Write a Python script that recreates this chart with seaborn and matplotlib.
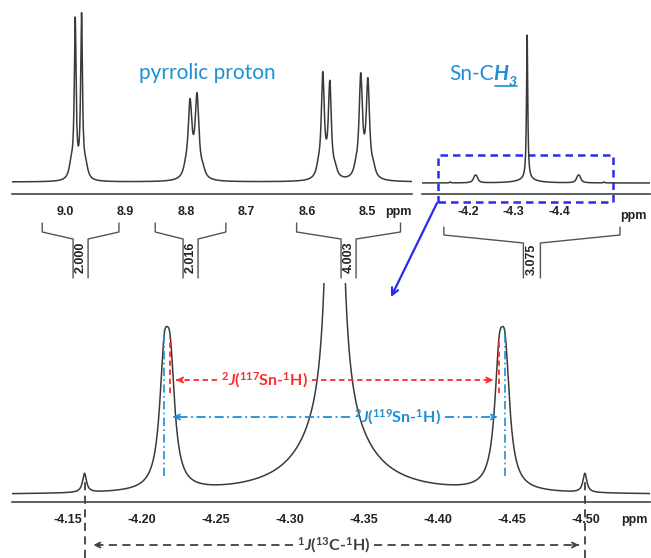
import numpy as np
import pandas as pd
import seaborn as sns
import matplotlib.pyplot as plt
from matplotlib.ticker import MultipleLocator
from matplotlib.transforms import blended_transform_factory
from matplotlib.patches import Rectangle
from matplotlib.lines import Line2D

# --- peak tables ------------------------------------------------------------
# pyrrolic protons (top-left trace), height in px above the baseline
pyr_ppm = [8.9834, 8.9729, 8.7934, 8.7818, 8.5736, 8.5620, 8.5108, 8.4990]
pyr_height = [156, 161, 74, 81, 102, 93, 100, 95]
pyr_hwhm = [0.0018, 0.0018, 0.0038, 0.0038, 0.0030, 0.0030, 0.0033, 0.0033]
# broad feet / shoulders under the doublets
shoulder_ppm = [8.990, 8.966, 8.801, 8.772, 8.581, 8.553, 8.519, 8.490]
shoulder_height = [14, 12, 6, 6, 8, 7, 7, 8]
shoulder_hwhm = [0.004] * 8

# Sn-CH3 line + satellites, height in px of the expanded (bottom) trace
sn_ppm = [-4.330, -4.330, -4.2148, -4.4452, -4.2189, -4.4411, -4.161, -4.499]
sn_height = [3050, 75, 109, 109, 106, 106, 19, 19]
sn_hwhm = [0.0016, 0.024, 0.0037, 0.0037, 0.0037, 0.0037, 0.0016, 0.0016]
# index of the lines in sn_ppm
SN119 = (2, 3)
SN117 = (4, 5)
C13 = (6, 7)

# integrals (ppm from, ppm to, value)
int_from = [9.038, 8.851, 8.617, -4.147]
int_to = [8.911, 8.734, 8.445, -4.534]
int_value = ['2.000', '2.016', '4.003', '3.075']

# ticks
top_left_ticks = [9.0, 8.9, 8.8, 8.7, 8.6, 8.5]
top_right_ticks = [-4.2, -4.3, -4.4, -4.5]
top_right_labels = ['-4.2', '-4.3', '-4.4', '']
bottom_ticks = [-4.15, -4.20, -4.25, -4.30, -4.35, -4.40, -4.45, -4.50]

zoom_box = (-4.134, -4.519)

BLUE = '#1f8fd4'
RED = '#ff2b2b'
DARK = '#404040'
LINE = '#3a3a3a'

sns.set_style('white')
plt.rcParams['font.family'] = ['Liberation Sans', 'DejaVu Sans']
plt.rcParams['axes.unicode_minus'] = False
plt.rcParams['mathtext.fontset'] = 'custom'
plt.rcParams['mathtext.rm'] = 'Lato:bold'
plt.rcParams['mathtext.it'] = 'Lato:bold:italic'
plt.rcParams['mathtext.bf'] = 'Lato:bold'

W, H = 651, 558


def fx(x):
    return x / W


def fy(y):
    return 1 - y / H


def box(l, t, r, b):
    return [l / W, 1 - b / H, (r - l) / W, (b - t) / H]


def lorentz(grid, pos, height, hwhm):
    out = np.zeros_like(grid)
    for p, h, w in zip(pos, height, hwhm):
        out += h * w ** 2 / ((grid - p) ** 2 + w ** 2)
    return out


fig = plt.figure(figsize=(W / 100, H / 100), dpi=100)
ax1 = fig.add_axes(box(12, 10, 412, 194))
ax2 = fig.add_axes(box(422, 30, 650, 194))
ax3 = fig.add_axes(box(12, 283, 650, 502))

lims = {ax1: (9.088, 8.426), ax2: (-4.099, -4.600), ax3: (-4.112, -4.543)}

g1 = np.linspace(*lims[ax1], 6000)
s1 = lorentz(g1, pyr_ppm + shoulder_ppm, pyr_height + shoulder_height,
             pyr_hwhm + shoulder_hwhm)
g2 = np.linspace(*lims[ax2], 6000)
s2 = lorentz(g2, sn_ppm, sn_height, sn_hwhm)
g3 = np.linspace(*lims[ax3], 8000)
s3 = lorentz(g3, sn_ppm, sn_height, sn_hwhm)

for ax, g, s in [(ax1, g1, s1), (ax2, g2, s2), (ax3, g3, s3)]:
    df = pd.DataFrame({'ppm': g, 'I': s})
    sns.lineplot(data=df, x='ppm', y='I', ax=ax, color=LINE, linewidth=1.1,
                 estimator=None, sort=False)


def style(ax, ylim, ticks, labels, minor):
    ax.set_xlim(lims[ax])
    ax.set_ylim(ylim)
    for side in ['top', 'left', 'right']:
        ax.spines[side].set_visible(False)
    ax.spines['bottom'].set_color('#444444')
    ax.spines['bottom'].set_linewidth(1.2)
    ax.set_yticks([])
    ax.set_xticks(ticks, labels, fontweight='bold', fontsize=9, color='#222222')
    ax.xaxis.set_minor_locator(MultipleLocator(minor))
    ax.tick_params(axis='x', which='major', direction='out', length=4,
                   width=1.0, pad=4.5, color='#444444')
    ax.tick_params(axis='x', which='minor', direction='out', length=2,
                   width=0.8, color='#444444')
    ax.set_xlabel('')
    ax.set_ylabel('')
    ax.patch.set_alpha(0)


style(ax1, (-12, 172), top_left_ticks, [f'{t:.1f}' for t in top_left_ticks], 0.01)
style(ax2, (-232, 3232), top_right_ticks, top_right_labels, 0.01)
style(ax3, (-7, 212), bottom_ticks, [f'{t:.2f}' for t in bottom_ticks], 0.01)

for ax, xf, dy in [(ax1, 0.965, -13), (ax2, 0.925, -16), (ax3, 0.976, -13)]:
    ax.annotate('ppm', xy=(xf, 0), xycoords='axes fraction', xytext=(0, dy),
                textcoords='offset points', ha='center', va='center',
                fontsize=9, fontweight='bold', color='#222222')


# integral brackets
def integral(ax, a, b, text, y_top, y_tick, y_join, y_end, half, y_text):
    tr = blended_transform_factory(ax.transData, fig.transFigure)
    x0, x1 = ax.get_xlim()
    d = half * abs(x1 - x0) / ax.bbox.width
    c = (a + b) / 2
    ys = [fy(y_top), fy(y_tick), fy(y_join), fy(y_end)]
    for end, inner in [(a, c + d), (b, c - d)]:
        ax.add_line(Line2D([end, end, inner, inner], ys, transform=tr,
                           color='#555555', lw=1.0, clip_on=False))
    ax.text(c, fy(y_text), text, rotation=90, ha='center', va='center',
            transform=tr, fontsize=9, fontweight='bold', color='#222222')


for a, b, v in zip(int_from[:3], int_to[:3], int_value[:3]):
    integral(ax1, a, b, v, 223, 232, 239, 278, 7.5, 257)
integral(ax2, int_from[3], int_to[3], int_value[3], 227, 235, 243, 278, 8.5, 259)

# dashed zoom box and arrow to the expansion
tr2 = blended_transform_factory(ax2.transData, fig.transFigure)
ax2.add_patch(Rectangle((zoom_box[0], fy(202)), zoom_box[1] - zoom_box[0],
                        fy(155) - fy(202), transform=tr2, fill=False,
                        edgecolor='#2a2aee', lw=1.8, ls=(0, (3, 2)),
                        clip_on=False))
ax3.annotate('', xy=(fx(391), fy(297)), xycoords='figure fraction',
             xytext=(fx(437), fy(203)), textcoords='figure fraction',
             arrowprops=dict(arrowstyle='->', color='#2a2aee', lw=1.6,
                             shrinkA=0, shrinkB=0, mutation_scale=12),
             annotation_clip=False)

# labels on the top traces
fig.text(fx(207), fy(79), 'pyrrolic proton', color=BLUE, fontsize=15,
         fontfamily='Lato', ha='center', va='baseline')
t1 = fig.text(fx(449), fy(80.5), 'Sn-C', color=BLUE, fontsize=15,
              fontfamily='Lato', va='baseline')
fig.canvas.draw()
bb1 = t1.get_window_extent()
t2 = fig.text(bb1.x1 / W, fy(80.5), 'H', color=BLUE, fontsize=15,
              fontfamily='Lato', fontweight='bold', fontstyle='italic',
              va='baseline')
fig.canvas.draw()
bb2 = t2.get_window_extent()
t3 = fig.text(bb2.x1 / W, fy(86.5), '3', color=BLUE, fontsize=10,
              fontfamily='Lato', fontweight='bold', fontstyle='italic',
              va='baseline')
fig.canvas.draw()
bb3 = t3.get_window_extent()
fig.add_artist(Line2D([(bb2.x0 + 1) / W, bb3.x1 / W], [fy(85.5), fy(85.5)],
                      transform=fig.transFigure, color=BLUE, lw=1.2))

# coupling markers in the expansion (y in px above its baseline)
ax3.vlines([sn_ppm[i] for i in SN119], 19, 165, colors=BLUE, lw=1.2,
           linestyles=[(0, (5, 2, 1, 2))])
ax3.vlines([sn_ppm[i] for i in SN117], 102, 158, colors=RED, lw=1.3,
           linestyles=[(0, (3, 2))])
ax3.vlines([sn_ppm[i] for i in C13], -63, 17, colors=DARK, lw=1.3,
           linestyles=[(0, (4.5, 3))], clip_on=False)


def coupling(text, xc, y, tips, color, ls):
    t = ax3.text(xc, y, text, color=color, ha='center', va='center',
                 fontsize=11.5, fontfamily='Lato', fontweight='bold',
                 clip_on=False)
    fig.canvas.draw()
    bb = t.get_window_extent()
    inv = ax3.transData.inverted()
    left = inv.transform((bb.x0 - 4, 0))[0]
    right = inv.transform((bb.x1 + 4, 0))[0]
    for start, tip in [(left, tips[0]), (right, tips[1])]:
        ax3.plot([start, tip], [y, y], color=color, lw=1.3, ls=ls,
                 clip_on=False)
        step = 0.004 if tip > start else -0.004
        ax3.annotate('', xy=(tip, y), xytext=(tip - step, y),
                     arrowprops=dict(arrowstyle='->', color=color, lw=1.3,
                                     shrinkA=0, shrinkB=0, mutation_scale=9),
                     annotation_clip=False)


coupling(r'$^{2}$$\mathit{J}$($^{117}$Sn-$^{1}$H)', -4.2824, 115,
         (sn_ppm[SN117[0]] - 0.004, sn_ppm[SN117[1]] + 0.004), RED, (0, (3, 2)))
coupling(r'$^{2}$$\mathit{J}$($^{119}$Sn-$^{1}$H)', -4.3723, 78,
         (sn_ppm[SN119[0]] - 0.006, sn_ppm[SN119[1]] + 0.005), BLUE,
         (0, (5, 2, 1, 2)))
coupling(r'$^{1}$$\mathit{J}$($^{13}$C-$^{1}$H)', -4.329, -50,
         (sn_ppm[C13[0]] - 0.006, sn_ppm[C13[1]] + 0.004), DARK, (0, (4.5, 3)))

fig.savefig('out.png', dpi=100)
